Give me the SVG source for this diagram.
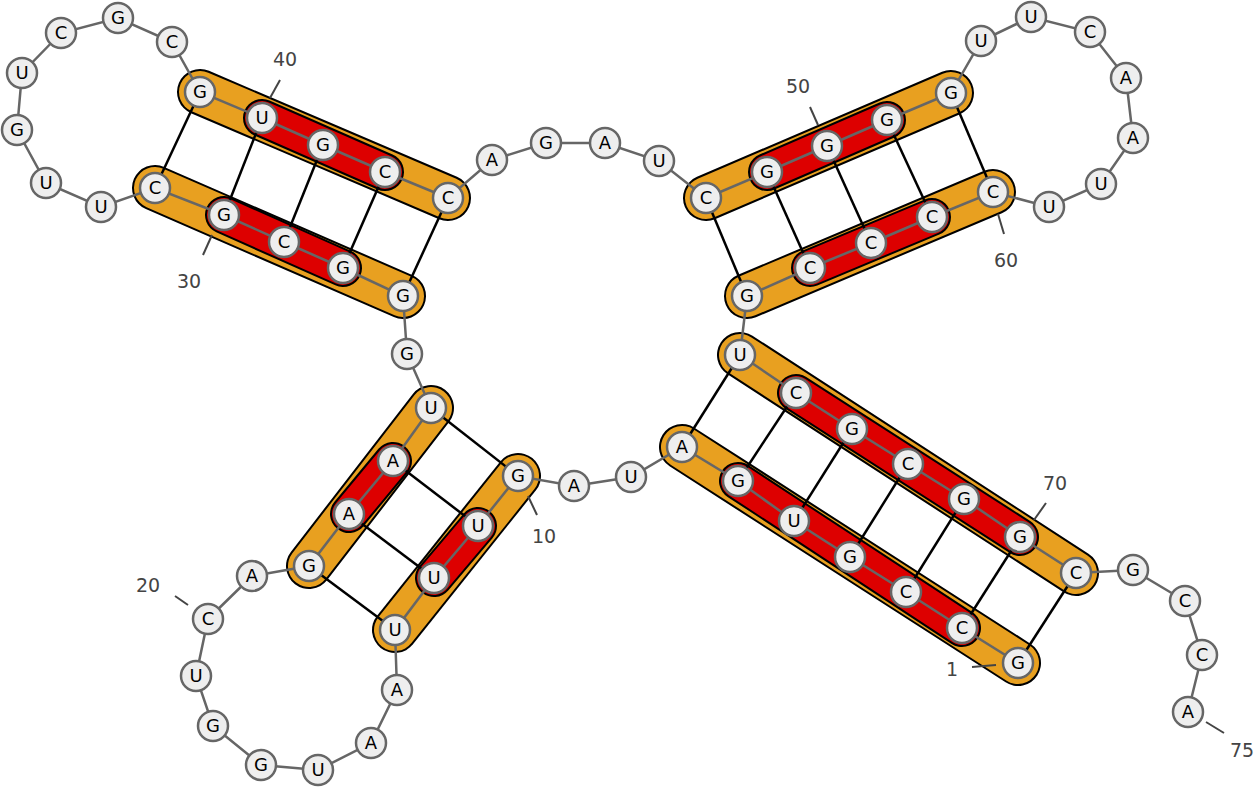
<svg xmlns="http://www.w3.org/2000/svg" width="1259" height="787" viewBox="0 0 1259 787">
<style>
.ob{fill:none;stroke:#000;stroke-width:46;stroke-linecap:round}
.o{fill:none;stroke:#E8A020;stroke-width:42;stroke-linecap:round}
.rb{fill:none;stroke:#000;stroke-width:38;stroke-linecap:round}
.r{fill:none;stroke:#DD0000;stroke-width:34;stroke-linecap:round}
.bp{stroke:#000;stroke-width:2.5}
.bb{fill:none;stroke:#666;stroke-width:2.5}
.n circle{fill:#eee;stroke:#666;stroke-width:2.5}
.n text{font-family:"DejaVu Sans",sans-serif;font-size:18px;text-anchor:middle;fill:#000}
.lb{font-family:"DejaVu Sans",sans-serif;font-size:19px;fill:#444}
.tk{stroke:#444;stroke-width:2}
</style>
<rect width="1259" height="787" fill="#fff"/>
<g id="highlights">
<line class="ob" x1="1018" y1="663" x2="682" y2="447"/><line class="o" x1="1018" y1="663" x2="682" y2="447"/>
<line class="ob" x1="740" y1="355" x2="1076" y2="573"/><line class="o" x1="740" y1="355" x2="1076" y2="573"/>
<line class="ob" x1="518" y1="476" x2="395" y2="630"/><line class="o" x1="518" y1="476" x2="395" y2="630"/>
<line class="ob" x1="309" y1="566" x2="431" y2="408"/><line class="o" x1="309" y1="566" x2="431" y2="408"/>
<line class="ob" x1="403" y1="296" x2="155" y2="188"/><line class="o" x1="403" y1="296" x2="155" y2="188"/>
<line class="ob" x1="200" y1="92" x2="448" y2="198"/><line class="o" x1="200" y1="92" x2="448" y2="198"/>
<line class="ob" x1="706" y1="198" x2="951" y2="93"/><line class="o" x1="706" y1="198" x2="951" y2="93"/>
<line class="ob" x1="993" y1="192" x2="747" y2="296"/><line class="o" x1="993" y1="192" x2="747" y2="296"/>
<line class="rb" x1="962" y1="628" x2="738" y2="481"/><line class="r" x1="962" y1="628" x2="738" y2="481"/>
<line class="rb" x1="796" y1="393" x2="1020" y2="537"/><line class="r" x1="796" y1="393" x2="1020" y2="537"/>
<line class="rb" x1="478" y1="526" x2="434" y2="578"/><line class="r" x1="478" y1="526" x2="434" y2="578"/>
<line class="rb" x1="349" y1="514" x2="393" y2="461"/><line class="r" x1="349" y1="514" x2="393" y2="461"/>
<line class="rb" x1="343" y1="268" x2="224" y2="215"/><line class="r" x1="343" y1="268" x2="224" y2="215"/>
<line class="rb" x1="262" y1="118" x2="385" y2="172"/><line class="r" x1="262" y1="118" x2="385" y2="172"/>
<line class="rb" x1="767" y1="172" x2="887" y2="120"/><line class="r" x1="767" y1="172" x2="887" y2="120"/>
<line class="rb" x1="932" y1="217" x2="810" y2="268"/><line class="r" x1="932" y1="217" x2="810" y2="268"/>
</g>
<g id="connectors">
<g class="bp">
<line x1="1018" y1="663" x2="1076" y2="573"/><line x1="962" y1="628" x2="1020" y2="537"/><line x1="906" y1="592" x2="964" y2="499"/><line x1="850" y1="557" x2="908" y2="464"/><line x1="794" y1="521" x2="852" y2="429"/><line x1="738" y1="481" x2="796" y2="393"/><line x1="682" y1="447" x2="740" y2="355"/>
<line x1="518" y1="476" x2="431" y2="408"/><line x1="478" y1="526" x2="393" y2="461"/><line x1="434" y1="578" x2="349" y2="514"/><line x1="395" y1="630" x2="309" y2="566"/>
<line x1="403" y1="296" x2="448" y2="198"/><line x1="343" y1="268" x2="385" y2="172"/><line x1="284" y1="242" x2="323" y2="145"/><line x1="224" y1="215" x2="262" y2="118"/><line x1="155" y1="188" x2="200" y2="92"/>
<line x1="706" y1="198" x2="747" y2="296"/><line x1="767" y1="172" x2="810" y2="268"/><line x1="827" y1="146" x2="871" y2="243"/><line x1="887" y1="120" x2="932" y2="217"/><line x1="951" y1="93" x2="993" y2="192"/>
</g>
<polyline class="bb" points="1018,663 962,628 906,592 850,557 794,521 738,481 682,447 631,477 574,486 518,476 478,526 434,578 395,630 397,690 371,743 318,770 261,765 213,726 196,676 208,619 252,576 309,566 349,514 393,461 431,408 407,354 403,296 343,268 284,242 224,215 155,188 101,207 46,183 17,130 22,73 61,33 118,18 172,42 200,92 262,118 323,145 385,172 448,198 492,160 546,143 605,143 659,161 706,198 767,172 827,146 887,120 951,93 981,41 1031,17 1090,32 1126,78 1133,138 1101,184 1049,207 993,192 932,217 871,243 810,268 747,296 740,355 796,393 852,429 908,464 964,499 1020,537 1076,573 1133,570 1185,601 1202,655 1188,712"/>
</g>
<g id="labels">
<line class="tk" x1="996" y1="665" x2="972" y2="667"/><text class="lb" x="946" y="676">1</text>
<line class="tk" x1="528" y1="496" x2="537" y2="515"/><text class="lb" x="532" y="543">10</text>
<line class="tk" x1="188" y1="605" x2="175" y2="596"/><text class="lb" x="136" y="592">20</text>
<line class="tk" x1="212" y1="235" x2="203" y2="255"/><text class="lb" x="177" y="288">30</text>
<line class="tk" x1="270" y1="98" x2="280" y2="80"/><text class="lb" x="273" y="66">40</text>
<line class="tk" x1="818" y1="125" x2="810" y2="107"/><text class="lb" x="786" y="93">50</text>
<line class="tk" x1="998" y1="214" x2="1004" y2="234"/><text class="lb" x="994" y="267">60</text>
<line class="tk" x1="1034" y1="520" x2="1046" y2="503"/><text class="lb" x="1043" y="490">70</text>
<line class="tk" x1="1206" y1="722" x2="1224" y2="733"/><text class="lb" x="1230" y="757">75</text>
</g>
<g id="nucleotides" class="n">
<g id="n1"><circle cx="1018" cy="663" r="15"/><text x="1018" y="669">G</text></g>
<g id="n2"><circle cx="962" cy="628" r="15"/><text x="962" y="634">C</text></g>
<g id="n3"><circle cx="906" cy="592" r="15"/><text x="906" y="598">C</text></g>
<g id="n4"><circle cx="850" cy="557" r="15"/><text x="850" y="563">G</text></g>
<g id="n5"><circle cx="794" cy="521" r="15"/><text x="794" y="527">U</text></g>
<g id="n6"><circle cx="738" cy="481" r="15"/><text x="738" y="487">G</text></g>
<g id="n7"><circle cx="682" cy="447" r="15"/><text x="682" y="453">A</text></g>
<g id="n8"><circle cx="631" cy="477" r="15"/><text x="631" y="483">U</text></g>
<g id="n9"><circle cx="574" cy="486" r="15"/><text x="574" y="492">A</text></g>
<g id="n10"><circle cx="518" cy="476" r="15"/><text x="518" y="482">G</text></g>
<g id="n11"><circle cx="478" cy="526" r="15"/><text x="478" y="532">U</text></g>
<g id="n12"><circle cx="434" cy="578" r="15"/><text x="434" y="584">U</text></g>
<g id="n13"><circle cx="395" cy="630" r="15"/><text x="395" y="636">U</text></g>
<g id="n14"><circle cx="397" cy="690" r="15"/><text x="397" y="696">A</text></g>
<g id="n15"><circle cx="371" cy="743" r="15"/><text x="371" y="749">A</text></g>
<g id="n16"><circle cx="318" cy="770" r="15"/><text x="318" y="776">U</text></g>
<g id="n17"><circle cx="261" cy="765" r="15"/><text x="261" y="771">G</text></g>
<g id="n18"><circle cx="213" cy="726" r="15"/><text x="213" y="732">G</text></g>
<g id="n19"><circle cx="196" cy="676" r="15"/><text x="196" y="682">U</text></g>
<g id="n20"><circle cx="208" cy="619" r="15"/><text x="208" y="625">C</text></g>
<g id="n21"><circle cx="252" cy="576" r="15"/><text x="252" y="582">A</text></g>
<g id="n22"><circle cx="309" cy="566" r="15"/><text x="309" y="572">G</text></g>
<g id="n23"><circle cx="349" cy="514" r="15"/><text x="349" y="520">A</text></g>
<g id="n24"><circle cx="393" cy="461" r="15"/><text x="393" y="467">A</text></g>
<g id="n25"><circle cx="431" cy="408" r="15"/><text x="431" y="414">U</text></g>
<g id="n26"><circle cx="407" cy="354" r="15"/><text x="407" y="360">G</text></g>
<g id="n27"><circle cx="403" cy="296" r="15"/><text x="403" y="302">G</text></g>
<g id="n28"><circle cx="343" cy="268" r="15"/><text x="343" y="274">G</text></g>
<g id="n29"><circle cx="284" cy="242" r="15"/><text x="284" y="248">C</text></g>
<g id="n30"><circle cx="224" cy="215" r="15"/><text x="224" y="221">G</text></g>
<g id="n31"><circle cx="155" cy="188" r="15"/><text x="155" y="194">C</text></g>
<g id="n32"><circle cx="101" cy="207" r="15"/><text x="101" y="213">U</text></g>
<g id="n33"><circle cx="46" cy="183" r="15"/><text x="46" y="189">U</text></g>
<g id="n34"><circle cx="17" cy="130" r="15"/><text x="17" y="136">G</text></g>
<g id="n35"><circle cx="22" cy="73" r="15"/><text x="22" y="79">U</text></g>
<g id="n36"><circle cx="61" cy="33" r="15"/><text x="61" y="39">C</text></g>
<g id="n37"><circle cx="118" cy="18" r="15"/><text x="118" y="24">G</text></g>
<g id="n38"><circle cx="172" cy="42" r="15"/><text x="172" y="48">C</text></g>
<g id="n39"><circle cx="200" cy="92" r="15"/><text x="200" y="98">G</text></g>
<g id="n40"><circle cx="262" cy="118" r="15"/><text x="262" y="124">U</text></g>
<g id="n41"><circle cx="323" cy="145" r="15"/><text x="323" y="151">G</text></g>
<g id="n42"><circle cx="385" cy="172" r="15"/><text x="385" y="178">C</text></g>
<g id="n43"><circle cx="448" cy="198" r="15"/><text x="448" y="204">C</text></g>
<g id="n44"><circle cx="492" cy="160" r="15"/><text x="492" y="166">A</text></g>
<g id="n45"><circle cx="546" cy="143" r="15"/><text x="546" y="149">G</text></g>
<g id="n46"><circle cx="605" cy="143" r="15"/><text x="605" y="149">A</text></g>
<g id="n47"><circle cx="659" cy="161" r="15"/><text x="659" y="167">U</text></g>
<g id="n48"><circle cx="706" cy="198" r="15"/><text x="706" y="204">C</text></g>
<g id="n49"><circle cx="767" cy="172" r="15"/><text x="767" y="178">G</text></g>
<g id="n50"><circle cx="827" cy="146" r="15"/><text x="827" y="152">G</text></g>
<g id="n51"><circle cx="887" cy="120" r="15"/><text x="887" y="126">G</text></g>
<g id="n52"><circle cx="951" cy="93" r="15"/><text x="951" y="99">G</text></g>
<g id="n53"><circle cx="981" cy="41" r="15"/><text x="981" y="47">U</text></g>
<g id="n54"><circle cx="1031" cy="17" r="15"/><text x="1031" y="23">U</text></g>
<g id="n55"><circle cx="1090" cy="32" r="15"/><text x="1090" y="38">C</text></g>
<g id="n56"><circle cx="1126" cy="78" r="15"/><text x="1126" y="84">A</text></g>
<g id="n57"><circle cx="1133" cy="138" r="15"/><text x="1133" y="144">A</text></g>
<g id="n58"><circle cx="1101" cy="184" r="15"/><text x="1101" y="190">U</text></g>
<g id="n59"><circle cx="1049" cy="207" r="15"/><text x="1049" y="213">U</text></g>
<g id="n60"><circle cx="993" cy="192" r="15"/><text x="993" y="198">C</text></g>
<g id="n61"><circle cx="932" cy="217" r="15"/><text x="932" y="223">C</text></g>
<g id="n62"><circle cx="871" cy="243" r="15"/><text x="871" y="249">C</text></g>
<g id="n63"><circle cx="810" cy="268" r="15"/><text x="810" y="274">C</text></g>
<g id="n64"><circle cx="747" cy="296" r="15"/><text x="747" y="302">G</text></g>
<g id="n65"><circle cx="740" cy="355" r="15"/><text x="740" y="361">U</text></g>
<g id="n66"><circle cx="796" cy="393" r="15"/><text x="796" y="399">C</text></g>
<g id="n67"><circle cx="852" cy="429" r="15"/><text x="852" y="435">G</text></g>
<g id="n68"><circle cx="908" cy="464" r="15"/><text x="908" y="470">C</text></g>
<g id="n69"><circle cx="964" cy="499" r="15"/><text x="964" y="505">G</text></g>
<g id="n70"><circle cx="1020" cy="537" r="15"/><text x="1020" y="543">G</text></g>
<g id="n71"><circle cx="1076" cy="573" r="15"/><text x="1076" y="579">C</text></g>
<g id="n72"><circle cx="1133" cy="570" r="15"/><text x="1133" y="576">G</text></g>
<g id="n73"><circle cx="1185" cy="601" r="15"/><text x="1185" y="607">C</text></g>
<g id="n74"><circle cx="1202" cy="655" r="15"/><text x="1202" y="661">C</text></g>
<g id="n75"><circle cx="1188" cy="712" r="15"/><text x="1188" y="718">A</text></g>
</g>
</svg>
